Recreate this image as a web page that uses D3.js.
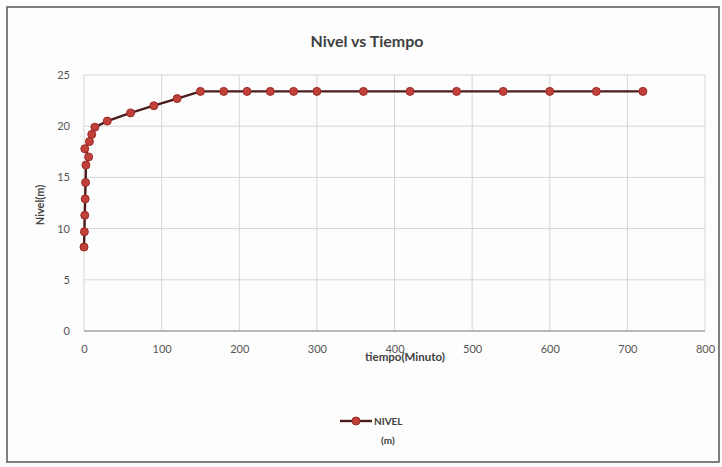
<!DOCTYPE html>
<html>
<head>
<meta charset="utf-8">
<script src="https://cdn.jsdelivr.net/npm/d3@7"></script>
<style>
  body { margin: 0; background: #fcfcfc; }
  text { font-family: Lato, "Open Sans", sans-serif; }
</style>
</head>
<body>
<div id="chart"></div>
<script>
// data
const tiempo = [0, 0.5, 1, 1.5, 2, 2.5, 6, 1, 7, 10, 14, 30, 60, 90, 120, 150, 180, 210, 240, 270, 300, 360, 420, 480, 540, 600, 660, 720];
const nivel = [8.2, 9.7, 11.3, 12.9, 14.5, 16.2, 17.0, 17.8, 18.5, 19.2, 19.9, 20.5, 21.3, 22.0, 22.7, 23.4, 23.4, 23.4, 23.4, 23.4, 23.4, 23.4, 23.4, 23.4, 23.4, 23.4, 23.4, 23.4];
const xTicks = [0, 100, 200, 300, 400, 500, 600, 700, 800];
const yTicks = [0, 5, 10, 15, 20, 25];

let width = 722, height = 467;
const margin = {top: 75, right: 17, bottom: 136, left: 84};
const plotW = width - margin.left - margin.right,
      plotH = height - margin.top - margin.bottom;

let svg = d3.select("#chart")
    .append("svg")
    .attr("width", width)
    .attr("height", height);

// outer frame
svg.append("rect")
    .attr("x", 7).attr("y", 7)
    .attr("width", 712).attr("height", 455)
    .attr("fill", "#fdfdfd")
    .attr("stroke", "#555").attr("stroke-width", 1.5);

let g = svg.append("g")
    .attr("transform", `translate(${margin.left}, ${margin.top})`);

let x = d3.scaleLinear().domain([0, 800]).range([0, plotW]);
let y = d3.scaleLinear().domain([0, 25]).range([plotH, 0]);

// gridlines
g.append("g").selectAll("line").data(xTicks).enter()
    .append("line")
    .attr("x1", d => x(d)).attr("x2", d => x(d))
    .attr("y1", 0).attr("y2", plotH)
    .attr("stroke", "#d6d6d6");
g.append("g").selectAll("line").data(yTicks).enter()
    .append("line")
    .attr("x1", 0).attr("x2", plotW)
    .attr("y1", d => y(d)).attr("y2", d => y(d))
    .attr("stroke", "#d6d6d6");

// bottom axis line
g.append("line")
    .attr("x1", 0).attr("x2", plotW)
    .attr("y1", plotH).attr("y2", plotH)
    .attr("stroke", "#8a8a8a").attr("stroke-width", 1.2);

// axes (labels only)
let xAxis = g.append("g")
    .attr("transform", `translate(0, ${plotH})`)
    .call(d3.axisBottom(x).tickValues(xTicks).tickSize(0).tickPadding(14));
let yAxis = g.append("g")
    .call(d3.axisLeft(y).tickValues(yTicks).tickSize(0).tickPadding(14));
[xAxis, yAxis].forEach(a => {
  a.select(".domain").remove();
  a.selectAll("text").attr("fill", "#555").style("font-size", "11px")
    .style("font-family", "Lato, sans-serif");
});

// line + markers
let pts = tiempo.map((t, i) => [t, nivel[i]]);
let line = d3.line().x(d => x(d[0])).y(d => y(d[1]));
g.append("path")
    .datum(pts)
    .attr("d", line)
    .attr("fill", "none")
    .attr("stroke", "#4a1c1c")
    .attr("stroke-width", 2.4);

g.selectAll("circle.pt").data(pts).enter()
    .append("circle")
    .attr("class", "pt")
    .attr("cx", d => x(d[0]))
    .attr("cy", d => y(d[1]))
    .attr("r", 4)
    .attr("fill", "#c0403a")
    .attr("stroke", "#9a2a26")
    .attr("stroke-width", 1);

// title
svg.append("text")
    .attr("x", 367).attr("y", 47)
    .attr("text-anchor", "middle")
    .attr("fill", "#404040")
    .style("font-size", "16px")
    .style("font-weight", "bold")
    .text("Nivel vs Tiempo");

// axis labels
svg.append("text")
    .attr("transform", "translate(44, 205) rotate(-90)")
    .attr("text-anchor", "middle")
    .attr("fill", "#404040")
    .style("font-size", "11px")
    .style("font-weight", "bold")
    .text("Nivel(m)");

svg.append("text")
    .attr("x", 405).attr("y", 361)
    .attr("text-anchor", "middle")
    .attr("fill", "#404040")
    .style("font-size", "11.5px")
    .style("font-weight", "bold")
    .text("tiempo(Minuto)");

// legend
let lg = svg.append("g").attr("transform", "translate(340, 421)");
lg.append("line").attr("x1", 0).attr("x2", 32).attr("y1", 0).attr("y2", 0)
    .attr("stroke", "#4a1c1c").attr("stroke-width", 2.4);
lg.append("circle").attr("cx", 16).attr("cy", 0).attr("r", 4)
    .attr("fill", "#c0403a").attr("stroke", "#9a2a26");
lg.append("text").attr("x", 34).attr("y", 4)
    .attr("fill", "#404040").style("font-size", "10px").style("font-weight", "bold")
    .text("NIVEL");
lg.append("text").attr("x", 41).attr("y", 23)
    .attr("fill", "#404040").style("font-size", "10px").style("font-weight", "bold")
    .text("(m)");
</script>
</body>
</html>
